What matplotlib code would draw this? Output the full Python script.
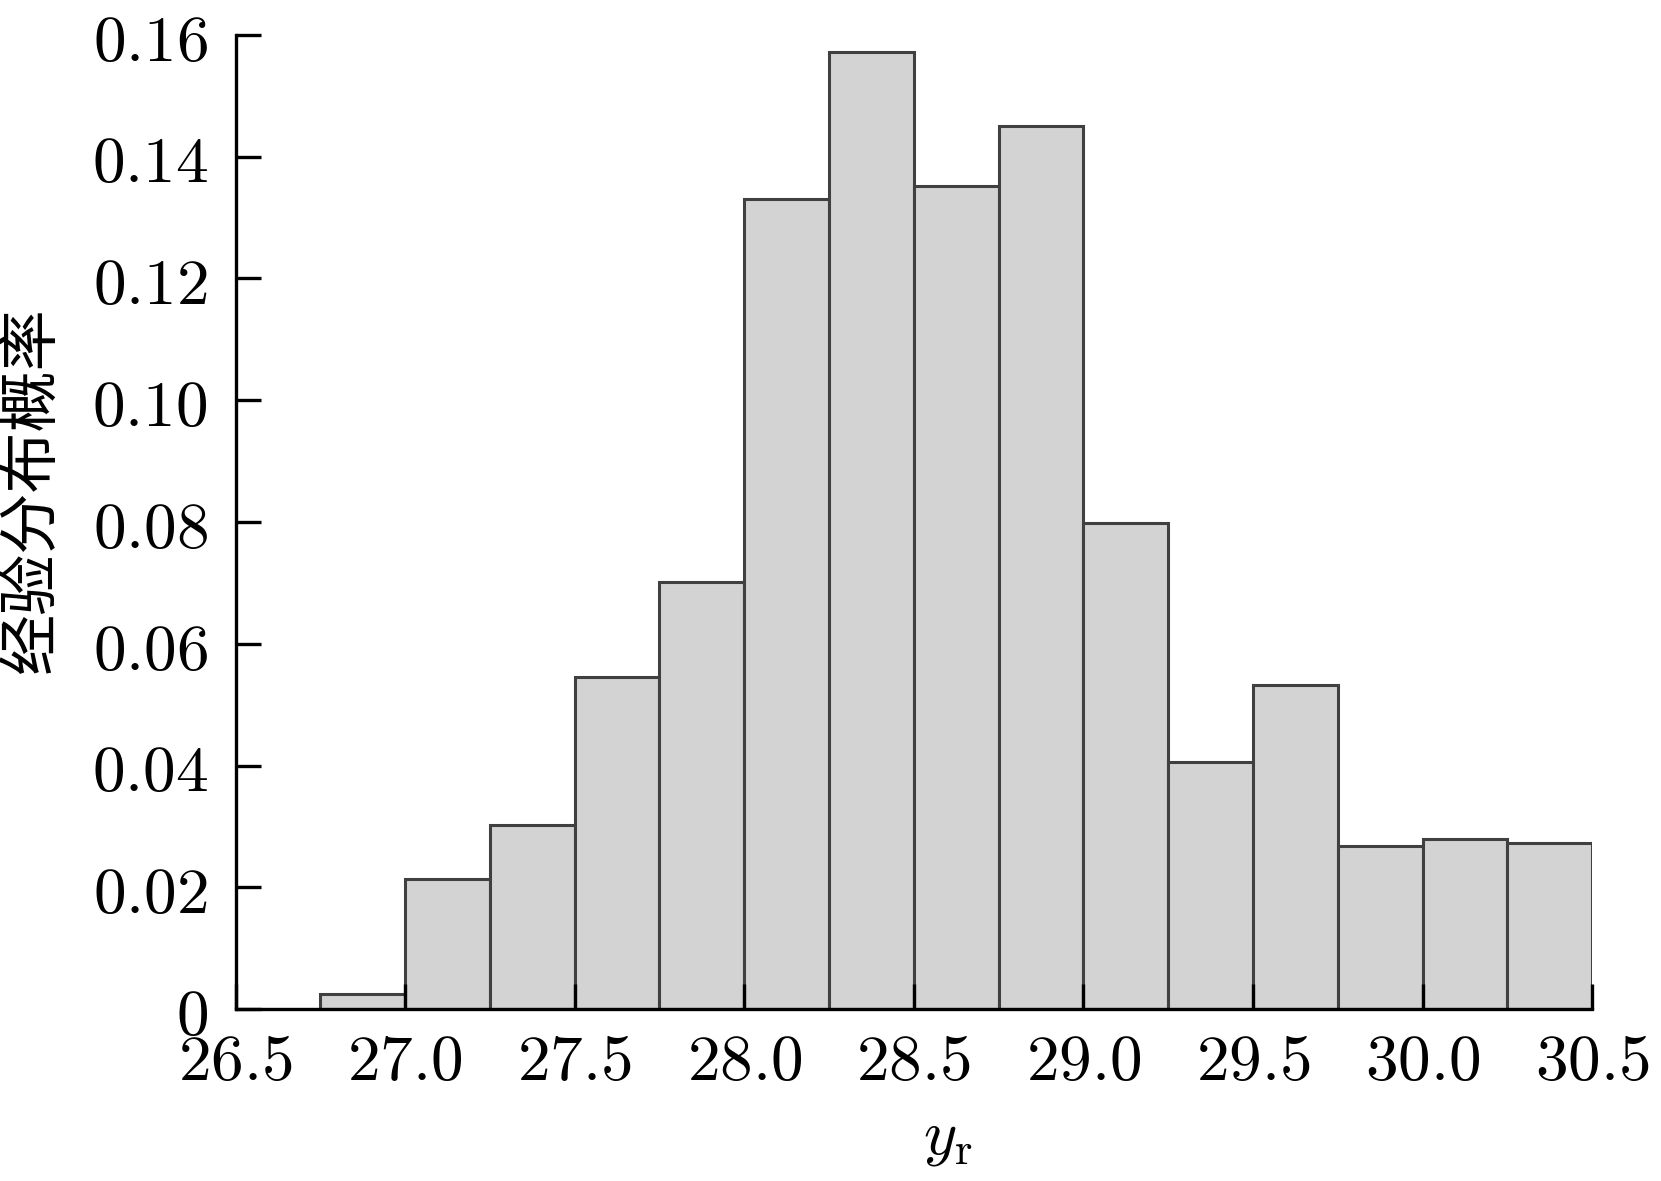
import matplotlib
matplotlib.use('Agg')
import matplotlib.pyplot as plt
import numpy as np

plt.rcParams['mathtext.fontset'] = 'cm'
plt.rcParams['font.family'] = ['Noto Sans CJK SC', 'DejaVu Sans']

bin_edges = [26.5, 26.75, 27.0, 27.25, 27.5, 27.75, 28.0, 28.25, 28.5,
             28.75, 29.0, 29.25, 29.5, 29.75, 30.0, 30.25, 30.5]
probs = [0.0, 0.0024, 0.0213, 0.0303, 0.0546, 0.0701, 0.1330, 0.1572,
         0.1352, 0.1450, 0.0798, 0.0406, 0.0532, 0.0267, 0.0279, 0.0272]

xticks = [26.5, 27.0, 27.5, 28.0, 28.5, 29.0, 29.5, 30.0, 30.5]
xtick_labels = ['26.5', '27.0', '27.5', '28.0', '28.5', '29.0', '29.5', '30.0', '30.5']
yticks = [0, 0.02, 0.04, 0.06, 0.08, 0.10, 0.12, 0.14, 0.16]
ytick_labels = ['0', '0.02', '0.04', '0.06', '0.08', '0.10', '0.12', '0.14', '0.16']

fig = plt.figure(figsize=(16.61, 11.81), dpi=100)
ax = fig.add_axes([0.1418, 0.1456, 0.9585 - 0.1418, 0.9704 - 0.1456])

left = np.array(bin_edges[:-1])
width = np.diff(bin_edges)
ax.bar(left, probs, width=width, align='edge', color='#d3d3d3',
       edgecolor='#404040', linewidth=2.2)

ax.set_xlim(26.5, 30.5)
ax.set_ylim(0, 0.16)
ax.spines['top'].set_visible(False)
ax.spines['right'].set_visible(False)
for s in ['left', 'bottom']:
    ax.spines[s].set_linewidth(2.4)
    ax.spines[s].set_zorder(5)

ax.set_xticks(xticks)
ax.set_xticklabels(['$' + t + '$' for t in xtick_labels])
ax.set_yticks(yticks)
ax.set_yticklabels(['$' + t + '$' for t in ytick_labels])
ax.tick_params(direction='in', length=18, width=2.4, labelsize=47)
ax.tick_params(axis='y', pad=20)
ax.tick_params(axis='x', pad=14)

ax.set_ylabel('经验分布概率', fontsize=44)
ax.yaxis.set_label_coords(-0.127, 0.533)
ax.set_xlabel('$y_\\mathrm{r}$', fontsize=46)
ax.xaxis.set_label_coords(0.525, -0.095)

fig.savefig('out.png', dpi=100)
